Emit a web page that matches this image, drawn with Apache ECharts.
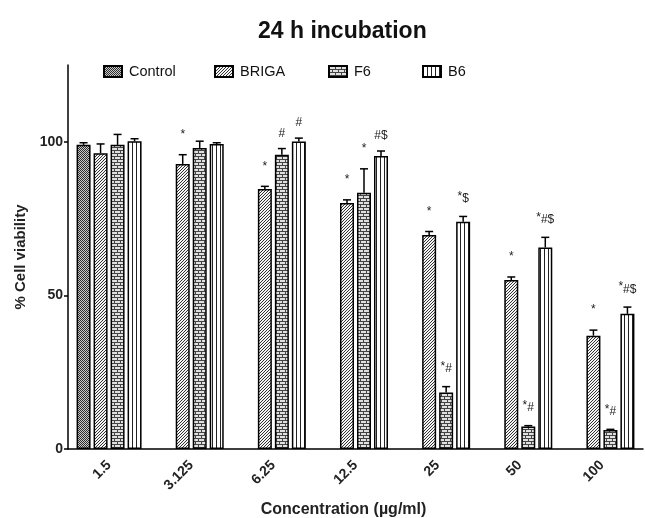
<!DOCTYPE html>
<html>
<head>
<meta charset="utf-8">
<title>24 h incubation</title>
<script src="https://cdn.jsdelivr.net/npm/echarts@6/dist/echarts.min.js"></script>
</head>
<body style="margin:0;background:#fff;">
<div id="main" style="width:645px;height:518px;"></div>
<script>
// categories and values
var concentrations = ['1.5', '3.125', '6.25', '12.5', '25', '50', '100'];
var seriesNames = ['Control', 'BRIGA', 'F6', 'B6'];

var controlVals = [99.0, null, null, null, null, null, null];
var brigaVals = [96.3, 92.8, 84.6, 80.1, 69.7, 55.0, 36.9];
var f6Vals = [99.0, 98.0, 95.8, 83.4, 18.4, 7.3, 6.2];
var b6Vals = [100.2, 99.3, 100.1, 95.4, 74.0, 65.6, 44.0];

// upper error (SEM) above each bar
var controlErr = [0.7, null, null, null, null, null, null];
var brigaErr = [3.0, 3.0, 0.9, 1.0, 1.1, 1.0, 1.8];
var f6Err = [3.4, 2.2, 2.0, 7.8, 1.9, 0.3, 0.2];
var b6Err = [0.8, 0.4, 1.1, 1.6, 1.7, 3.3, 2.2];

// significance marks
var controlMarks = ['', '', '', '', '', '', ''];
var brigaMarks = ['', '*', '*', '*', '*', '*', '*'];
var f6Marks = ['', '', '#', '*', '*#', '*#', '*#'];
var b6Marks = ['', '', '#', '#$', '*$', '*#$', '*#$'];

var yTicks = [0, 50, 100];

var allVals = [controlVals, brigaVals, f6Vals, b6Vals];
var allErr = [controlErr, brigaErr, f6Err, b6Err];
var allMarks = [controlMarks, brigaMarks, f6Marks, b6Marks];

// ---- fill patterns (black & white hatching like the printed figure)
function makeTile(w, h, draw) {
  var c = document.createElement('canvas');
  c.width = w; c.height = h;
  var ctx = c.getContext('2d');
  draw(ctx);
  return { image: c, repeat: 'repeat' };
}
var patterns = [
  // control: fine checker
  makeTile(2, 2, function (ctx) {
    ctx.fillStyle = '#c8c8c8'; ctx.fillRect(0, 0, 2, 2);
    ctx.fillStyle = '#2e2e2e'; ctx.fillRect(0, 0, 1, 1); ctx.fillRect(1, 1, 1, 1);
  }),
  // BRIGA: diagonal hatch
  makeTile(3, 3, function (ctx) {
    ctx.fillStyle = '#f4f4f4'; ctx.fillRect(0, 0, 3, 3);
    ctx.fillStyle = '#333';
    ctx.fillRect(2, 0, 1, 1); ctx.fillRect(1, 1, 1, 1); ctx.fillRect(0, 2, 1, 1);
  }),
  // F6: bricks
  makeTile(6, 6, function (ctx) {
    ctx.fillStyle = '#e0e0e0'; ctx.fillRect(0, 0, 6, 6);
    ctx.fillStyle = '#444';
    ctx.fillRect(0, 0, 6, 1); ctx.fillRect(0, 3, 6, 1);
    ctx.fillRect(0, 1, 1, 2); ctx.fillRect(3, 4, 1, 2);
  }),
  // B6: vertical lines
  makeTile(4, 4, function (ctx) {
    ctx.fillStyle = '#fff'; ctx.fillRect(0, 0, 4, 4);
    ctx.fillStyle = '#222'; ctx.fillRect(0, 0, 1, 4);
  })
];

var barW = 14, barGapPx = 3;
var slotOffsets = [-1.5, -0.5, 0.5, 1.5].map(function (k) { return k * (barW + barGapPx); });

var font = 'Liberation Sans, Arial, sans-serif';
var myChart = echarts.init(document.getElementById('main'));

var series = [];
seriesNames.forEach(function (name, i) {
  series.push({
    name: name,
    type: 'bar',
    data: allVals[i],
    barWidth: barW,
    barGap: (barGapPx / barW * 100) + '%',
    itemStyle: { color: patterns[i], borderColor: '#000', borderWidth: 1.5 },
    z: 2
  });
});
seriesNames.forEach(function (name, i) {
  var data = [];
  for (var k = 0; k < concentrations.length; k++) {
    if (allVals[i][k] != null) data.push([k, allVals[i][k], allErr[i][k], allMarks[i][k]]);
  }
  series.push({
    type: 'custom',
    data: data,
    z: 3,
    silent: true,
    renderItem: function (params, api) {
      var k = api.value(0), v = api.value(1), e = api.value(2);
      var mark = data[params.dataIndex][3];
      var base = api.coord([k, v]);
      var topPt = api.coord([k, v + e]);
      var x = base[0] + slotOffsets[i];
      var children = [
        { type: 'line', shape: { x1: x, y1: base[1], x2: x, y2: topPt[1] }, style: { stroke: '#000', lineWidth: 1.5 } },
        { type: 'line', shape: { x1: x - 4, y1: topPt[1], x2: x + 4, y2: topPt[1] }, style: { stroke: '#000', lineWidth: 1.5 } }
      ];
      if (mark) {
        var txt = '';
        if (mark.charAt(0) === '*') {
          txt += '{s|*}';
          mark = mark.slice(1);
        }
        if (mark) txt += '{h|' + mark + '}';
        children.push({
          type: 'text',
          x: x, y: topPt[1] - 9,
          style: {
            text: txt,
            align: 'center', verticalAlign: 'bottom',
            fontFamily: font, fill: '#222',
            rich: {
              s: { fontSize: 12, padding: [0, 0, 5, 0], fill: '#222' },
              h: { fontSize: 12, fill: '#222' }
            }
          }
        });
      }
      return { type: 'group', children: children };
    }
  });
});

var legendLeft = [103, 214, 328, 422];
var legends = seriesNames.map(function (name, i) {
  return {
    data: [name],
    icon: 'rect',
    left: legendLeft[i], top: 64,
    padding: 0,
    itemWidth: 18, itemHeight: 11,
    itemGap: 0,
    textStyle: { fontFamily: font, fontSize: 14.5, color: '#111', padding: [0, 0, 0, 2] },
    selectedMode: false
  };
});

option = {
  animation: false,
  backgroundColor: '#fff',
  title: {
    text: '24 h incubation',
    left: 253, top: 15,
    textStyle: { fontFamily: font, fontSize: 23, fontWeight: 'bold', color: '#111' }
  },
  legend: legends,
  grid: { left: 68, right: 2, top: 65, bottom: 69, outerBoundsMode: 'none', containLabel: false },
  xAxis: {
    type: 'category',
    data: concentrations,
    axisLine: { lineStyle: { color: '#000', width: 1.5 } },
    axisTick: { alignWithLabel: true, length: 5, lineStyle: { color: '#000', width: 1.5 } },
    axisLabel: { rotate: 45, fontFamily: font, fontSize: 14, fontWeight: 'bold', color: '#222', margin: 14 },
    name: 'Concentration (\u00b5g/ml)',
    nameLocation: 'middle', nameGap: 53,
    nameTextStyle: { fontFamily: font, fontSize: 16, fontWeight: 'bold', color: '#222', padding: [0, 24, 0, 0] }
  },
  yAxis: {
    type: 'value',
    min: 0, max: 125,
    axisLine: { show: true, lineStyle: { color: '#000', width: 1.5 } },
    axisTick: { show: true, length: 4, customValues: yTicks, lineStyle: { color: '#000', width: 1.5 } },
    axisLabel: { customValues: yTicks, fontFamily: font, fontSize: 14, fontWeight: 'bold', color: '#222', margin: 5 },
    splitLine: { show: false },
    name: '% Cell viability',
    nameLocation: 'middle', nameGap: 36,
    nameTextStyle: { fontFamily: font, fontSize: 15, fontWeight: 'bold', color: '#222' }
  },
  series: series
};

myChart.setOption(option);
</script>
</body>
</html>
